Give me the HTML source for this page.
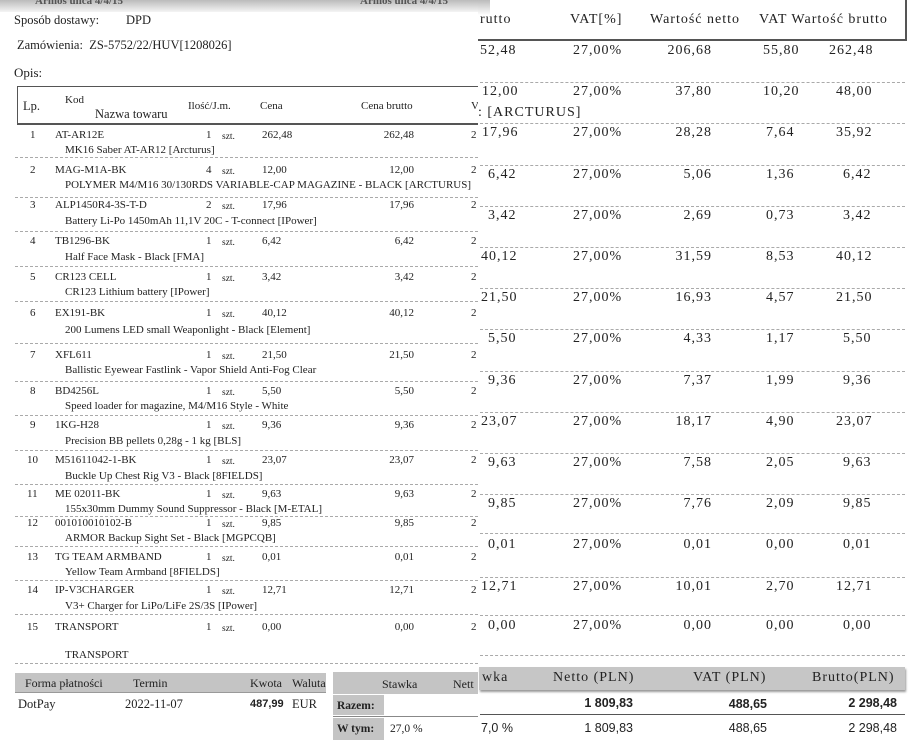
<!DOCTYPE html>
<html><head><meta charset="utf-8"><style>
body{margin:0;width:914px;height:740px;position:relative;overflow:hidden;background:#fff;font-family:"Liberation Serif",serif;color:#222}
div{position:absolute;white-space:nowrap}
.l{font-size:11px;line-height:14px}
.r{font-size:14px;line-height:16px;letter-spacing:1px}
.ra{text-align:right}
.d{height:0;border-top:1px dashed #aaa}
.s{font-family:"Liberation Sans",sans-serif;letter-spacing:0}
.z{font-size:9.5px;padding-top:2px}
</style></head><body>
<!-- left panel -->
<div style="left:0;top:0;width:478px;height:12px;background:linear-gradient(#bbb,#f4f4f4)"></div>
<div class="l" style="left:35px;top:-6px;font-weight:bold;color:#555">Armos ulica 4/4/15</div>
<div class="l" style="left:360px;top:-6px;font-weight:bold;color:#555">Armos ulica 4/4/15</div>
<div style="left:14px;top:13px;font-size:12.5px">Sposób dostawy:</div>
<div style="left:126px;top:13px;font-size:12.5px">DPD</div>
<div style="left:17px;top:38px;font-size:12.5px">Zamówienia:&nbsp; ZS-5752/22/HUV[1208026]</div>
<div style="left:14px;top:65px;font-size:13px">Opis:</div>
<div style="left:17px;top:86px;width:470px;height:36px;border:1px solid #555;border-bottom:2px solid #555;border-right:none"></div>
<div class="l" style="left:23px;top:99px;font-size:12.5px">Lp.</div>
<div class="l" style="left:65px;top:93px">Kod</div>
<div class="l" style="left:95px;top:107px;font-size:12.5px">Nazwa towaru</div>
<div class="l" style="left:188px;top:99px">Ilość/J.m.</div>
<div class="l" style="left:260px;top:99px">Cena</div>
<div class="l" style="left:361px;top:99px">Cena brutto</div>
<div class="l" style="left:471px;top:99px">V</div>

<div class="l" style="left:30px;top:128px">1</div><div class="l" style="left:55px;top:128px">AT-AR12E</div><div class="l" style="left:206px;top:128px">1</div><div class="l z" style="left:222px;top:128px">szt.</div><div class="l" style="left:262px;top:128px">262,48</div><div class="l ra" style="left:340px;width:74px;top:128px">262,48</div><div class="l" style="left:471px;top:128px">2</div>
<div class="l" style="left:65px;top:143px">MK16 Saber AT-AR12 [Arcturus]</div><div class="d" style="left:15px;width:463px;top:157px"></div>

<div class="l" style="left:30px;top:163px">2</div><div class="l" style="left:55px;top:163px">MAG-M1A-BK</div><div class="l" style="left:206px;top:163px">4</div><div class="l z" style="left:222px;top:163px">szt.</div><div class="l" style="left:262px;top:163px">12,00</div><div class="l ra" style="left:340px;width:74px;top:163px">12,00</div><div class="l" style="left:471px;top:163px">2</div>
<div class="l" style="left:65px;top:178px">POLYMER M4/M16 30/130RDS VARIABLE-CAP MAGAZINE - BLACK [ARCTURUS]</div><div class="d" style="left:15px;width:463px;top:197px"></div>

<div class="l" style="left:30px;top:198px">3</div><div class="l" style="left:55px;top:198px">ALP1450R4-3S-T-D</div><div class="l" style="left:206px;top:198px">2</div><div class="l z" style="left:222px;top:198px">szt.</div><div class="l" style="left:262px;top:198px">17,96</div><div class="l ra" style="left:340px;width:74px;top:198px">17,96</div><div class="l" style="left:471px;top:198px">2</div>
<div class="l" style="left:65px;top:214px">Battery Li-Po 1450mAh 11,1V 20C - T-connect [IPower]</div><div class="d" style="left:15px;width:463px;top:231px"></div>

<div class="l" style="left:30px;top:234px">4</div><div class="l" style="left:55px;top:234px">TB1296-BK</div><div class="l" style="left:206px;top:234px">1</div><div class="l z" style="left:222px;top:234px">szt.</div><div class="l" style="left:262px;top:234px">6,42</div><div class="l ra" style="left:340px;width:74px;top:234px">6,42</div><div class="l" style="left:471px;top:234px">2</div>
<div class="l" style="left:65px;top:250px">Half Face Mask - Black [FMA]</div><div class="d" style="left:15px;width:463px;top:266px"></div>

<div class="l" style="left:30px;top:270px">5</div><div class="l" style="left:55px;top:270px">CR123 CELL</div><div class="l" style="left:206px;top:270px">1</div><div class="l z" style="left:222px;top:270px">szt.</div><div class="l" style="left:262px;top:270px">3,42</div><div class="l ra" style="left:340px;width:74px;top:270px">3,42</div><div class="l" style="left:471px;top:270px">2</div>
<div class="l" style="left:65px;top:285px">CR123 Lithium battery [IPower]</div><div class="d" style="left:15px;width:463px;top:301px"></div>

<div class="l" style="left:30px;top:306px">6</div><div class="l" style="left:55px;top:306px">EX191-BK</div><div class="l" style="left:206px;top:306px">1</div><div class="l z" style="left:222px;top:306px">szt.</div><div class="l" style="left:262px;top:306px">40,12</div><div class="l ra" style="left:340px;width:74px;top:306px">40,12</div><div class="l" style="left:471px;top:306px">2</div>
<div class="l" style="left:65px;top:323px">200 Lumens LED small Weaponlight - Black [Element]</div><div class="d" style="left:15px;width:463px;top:343px"></div>

<div class="l" style="left:30px;top:348px">7</div><div class="l" style="left:55px;top:348px">XFL611</div><div class="l" style="left:206px;top:348px">1</div><div class="l z" style="left:222px;top:348px">szt.</div><div class="l" style="left:262px;top:348px">21,50</div><div class="l ra" style="left:340px;width:74px;top:348px">21,50</div><div class="l" style="left:471px;top:348px">2</div>
<div class="l" style="left:65px;top:363px">Ballistic Eyewear Fastlink - Vapor Shield Anti-Fog Clear</div><div class="d" style="left:15px;width:463px;top:381px"></div>

<div class="l" style="left:30px;top:384px">8</div><div class="l" style="left:55px;top:384px">BD4256L</div><div class="l" style="left:206px;top:384px">1</div><div class="l z" style="left:222px;top:384px">szt.</div><div class="l" style="left:262px;top:384px">5,50</div><div class="l ra" style="left:340px;width:74px;top:384px">5,50</div><div class="l" style="left:471px;top:384px">2</div>
<div class="l" style="left:65px;top:399px">Speed loader for magazine, M4/M16 Style - White</div><div class="d" style="left:15px;width:463px;top:415px"></div>

<div class="l" style="left:30px;top:418px">9</div><div class="l" style="left:55px;top:418px">1KG-H28</div><div class="l" style="left:206px;top:418px">1</div><div class="l z" style="left:222px;top:418px">szt.</div><div class="l" style="left:262px;top:418px">9,36</div><div class="l ra" style="left:340px;width:74px;top:418px">9,36</div><div class="l" style="left:471px;top:418px">2</div>
<div class="l" style="left:65px;top:434px">Precision BB pellets 0,28g - 1 kg [BLS]</div><div class="d" style="left:15px;width:463px;top:450px"></div>

<div class="l" style="left:27px;top:453px">10</div><div class="l" style="left:55px;top:453px">M51611042-1-BK</div><div class="l" style="left:206px;top:453px">1</div><div class="l z" style="left:222px;top:453px">szt.</div><div class="l" style="left:262px;top:453px">23,07</div><div class="l ra" style="left:340px;width:74px;top:453px">23,07</div><div class="l" style="left:471px;top:453px">2</div>
<div class="l" style="left:65px;top:469px">Buckle Up Chest Rig V3 - Black [8FIELDS]</div><div class="d" style="left:15px;width:463px;top:484px"></div>

<div class="l" style="left:27px;top:487px">11</div><div class="l" style="left:55px;top:487px">ME 02011-BK</div><div class="l" style="left:206px;top:487px">1</div><div class="l z" style="left:222px;top:487px">szt.</div><div class="l" style="left:262px;top:487px">9,63</div><div class="l ra" style="left:340px;width:74px;top:487px">9,63</div><div class="l" style="left:471px;top:487px">2</div>
<div class="l" style="left:65px;top:502px">155x30mm Dummy Sound Suppressor - Black [M-ETAL]</div><div class="d" style="left:15px;width:463px;top:516px"></div>

<div class="l" style="left:27px;top:516px">12</div><div class="l" style="left:55px;top:516px">001010010102-B</div><div class="l" style="left:206px;top:516px">1</div><div class="l z" style="left:222px;top:516px">szt.</div><div class="l" style="left:262px;top:516px">9,85</div><div class="l ra" style="left:340px;width:74px;top:516px">9,85</div><div class="l" style="left:471px;top:516px">2</div>
<div class="l" style="left:65px;top:531px">ARMOR Backup Sight Set - Black [MGPCQB]</div><div class="d" style="left:15px;width:463px;top:546px"></div>

<div class="l" style="left:27px;top:550px">13</div><div class="l" style="left:55px;top:550px">TG TEAM ARMBAND</div><div class="l" style="left:206px;top:550px">1</div><div class="l z" style="left:222px;top:550px">szt.</div><div class="l" style="left:262px;top:550px">0,01</div><div class="l ra" style="left:340px;width:74px;top:550px">0,01</div><div class="l" style="left:471px;top:550px">2</div>
<div class="l" style="left:65px;top:565px">Yellow Team Armband [8FIELDS]</div><div class="d" style="left:15px;width:463px;top:580px"></div>

<div class="l" style="left:27px;top:583px">14</div><div class="l" style="left:55px;top:583px">IP-V3CHARGER</div><div class="l" style="left:206px;top:583px">1</div><div class="l z" style="left:222px;top:583px">szt.</div><div class="l" style="left:262px;top:583px">12,71</div><div class="l ra" style="left:340px;width:74px;top:583px">12,71</div><div class="l" style="left:471px;top:583px">2</div>
<div class="l" style="left:65px;top:599px">V3+ Charger for LiPo/LiFe 2S/3S [IPower]</div><div class="d" style="left:15px;width:463px;top:614px"></div>

<div class="l" style="left:27px;top:620px">15</div><div class="l" style="left:55px;top:620px">TRANSPORT</div><div class="l" style="left:206px;top:620px">1</div><div class="l z" style="left:222px;top:620px">szt.</div><div class="l" style="left:262px;top:620px">0,00</div><div class="l ra" style="left:340px;width:74px;top:620px">0,00</div><div class="l" style="left:471px;top:620px">2</div>
<div class="l" style="left:65px;top:648px">TRANSPORT</div><div class="d" style="left:15px;width:463px;top:663px"></div>

<div style="left:15px;top:673px;width:311px;height:19px;background:#c4c4c4;border-bottom:1px solid #999"></div>
<div class="l" style="left:25px;top:676px;font-size:12px">Forma płatności</div>
<div class="l" style="left:133px;top:676px;font-size:12px">Termin</div>
<div class="l" style="left:250px;top:676px;font-size:12px">Kwota</div>
<div class="l" style="left:292px;top:676px;font-size:12px">Waluta</div>
<div class="l" style="left:18px;top:697px;font-size:12.5px">DotPay</div>
<div class="l" style="left:125px;top:697px;font-size:12.5px">2022-11-07</div>
<div class="l s" style="left:250px;top:697px;font-weight:bold;font-size:11px">487,99</div>
<div class="l" style="left:292px;top:697px;font-size:12.5px">EUR</div>
<div style="left:333px;top:672px;width:145px;height:22px;background:#c4c4c4"></div>
<div class="l" style="left:382px;top:677px;font-size:12px">Stawka</div>
<div class="l" style="left:453px;top:677px;font-size:12px">Nett</div>
<div style="left:333px;top:695px;width:51px;height:20px;background:#c4c4c4"></div>
<div style="left:333px;top:716px;width:145px;height:1px;background:#888"></div>
<div style="left:333px;top:718px;width:51px;height:22px;background:#c4c4c4"></div>
<div class="l" style="left:337px;top:699px;font-weight:bold;font-size:11.5px">Razem:</div>
<div class="l" style="left:337px;top:722px;font-weight:bold;font-size:11.5px">W tym:</div>
<div class="l" style="left:390px;top:722px;font-size:11.5px">27,0 %</div>

<!-- right panel -->
<div style="left:478px;top:0;width:436px;height:740px;background:#fff"></div>
<div style="left:478px;top:0;width:12px;height:15px;background:linear-gradient(#bbb,#fff)"></div>
<div style="left:478px;top:-2px;width:427px;height:41px;border-right:2px solid #555;border-bottom:2px solid #555"></div>
<div class="r" style="left:480px;top:12px">rutto</div>
<div class="r" style="left:570px;top:12px">VAT[%]</div>
<div class="r" style="left:650px;top:12px">Wartość netto</div>
<div class="r" style="left:759px;top:12px">VAT Wartość brutto</div>

<div class="r" style="left:480px;top:43px">52,48</div><div class="r" style="left:573px;top:43px">27,00%</div><div class="r ra" style="left:640px;width:72px;top:43px">206,68</div><div class="r" style="left:763px;top:43px">55,80</div><div class="r" style="left:829px;top:43px">262,48</div>
<div class="d" style="left:480px;width:425px;top:82px"></div>
<div class="r" style="left:482px;top:84px">12,00</div><div class="r" style="left:573px;top:84px">27,00%</div><div class="r ra" style="left:640px;width:72px;top:84px">37,80</div><div class="r" style="left:763px;top:84px">10,20</div><div class="r" style="left:836px;top:84px">48,00</div>
<div class="r" style="left:478px;top:105px">: [ARCTURUS]</div>
<div class="d" style="left:480px;width:425px;top:123px"></div>
<div class="r" style="left:482px;top:125px">17,96</div><div class="r" style="left:573px;top:125px">27,00%</div><div class="r ra" style="left:640px;width:72px;top:125px">28,28</div><div class="r" style="left:766px;top:125px">7,64</div><div class="r" style="left:836px;top:125px">35,92</div>
<div class="d" style="left:480px;width:425px;top:165px"></div>
<div class="r" style="left:488px;top:167px">6,42</div><div class="r" style="left:573px;top:167px">27,00%</div><div class="r ra" style="left:640px;width:72px;top:167px">5,06</div><div class="r" style="left:766px;top:167px">1,36</div><div class="r" style="left:843px;top:167px">6,42</div>
<div class="d" style="left:480px;width:425px;top:206px"></div>
<div class="r" style="left:488px;top:208px">3,42</div><div class="r" style="left:573px;top:208px">27,00%</div><div class="r ra" style="left:640px;width:72px;top:208px">2,69</div><div class="r" style="left:766px;top:208px">0,73</div><div class="r" style="left:843px;top:208px">3,42</div>
<div class="d" style="left:480px;width:425px;top:247px"></div>
<div class="r" style="left:481px;top:249px">40,12</div><div class="r" style="left:573px;top:249px">27,00%</div><div class="r ra" style="left:640px;width:72px;top:249px">31,59</div><div class="r" style="left:766px;top:249px">8,53</div><div class="r" style="left:836px;top:249px">40,12</div>
<div class="d" style="left:480px;width:425px;top:288px"></div>
<div class="r" style="left:481px;top:290px">21,50</div><div class="r" style="left:573px;top:290px">27,00%</div><div class="r ra" style="left:640px;width:72px;top:290px">16,93</div><div class="r" style="left:766px;top:290px">4,57</div><div class="r" style="left:836px;top:290px">21,50</div>
<div class="d" style="left:480px;width:425px;top:329px"></div>
<div class="r" style="left:488px;top:331px">5,50</div><div class="r" style="left:573px;top:331px">27,00%</div><div class="r ra" style="left:640px;width:72px;top:331px">4,33</div><div class="r" style="left:766px;top:331px">1,17</div><div class="r" style="left:843px;top:331px">5,50</div>
<div class="d" style="left:480px;width:425px;top:371px"></div>
<div class="r" style="left:488px;top:373px">9,36</div><div class="r" style="left:573px;top:373px">27,00%</div><div class="r ra" style="left:640px;width:72px;top:373px">7,37</div><div class="r" style="left:766px;top:373px">1,99</div><div class="r" style="left:843px;top:373px">9,36</div>
<div class="d" style="left:480px;width:425px;top:412px"></div>
<div class="r" style="left:481px;top:414px">23,07</div><div class="r" style="left:573px;top:414px">27,00%</div><div class="r ra" style="left:640px;width:72px;top:414px">18,17</div><div class="r" style="left:766px;top:414px">4,90</div><div class="r" style="left:836px;top:414px">23,07</div>
<div class="d" style="left:480px;width:425px;top:453px"></div>
<div class="r" style="left:488px;top:455px">9,63</div><div class="r" style="left:573px;top:455px">27,00%</div><div class="r ra" style="left:640px;width:72px;top:455px">7,58</div><div class="r" style="left:766px;top:455px">2,05</div><div class="r" style="left:843px;top:455px">9,63</div>
<div class="d" style="left:480px;width:425px;top:494px"></div>
<div class="r" style="left:488px;top:496px">9,85</div><div class="r" style="left:573px;top:496px">27,00%</div><div class="r ra" style="left:640px;width:72px;top:496px">7,76</div><div class="r" style="left:766px;top:496px">2,09</div><div class="r" style="left:843px;top:496px">9,85</div>
<div class="d" style="left:480px;width:425px;top:533px"></div>
<div class="r" style="left:488px;top:537px">0,01</div><div class="r" style="left:573px;top:537px">27,00%</div><div class="r ra" style="left:640px;width:72px;top:537px">0,01</div><div class="r" style="left:766px;top:537px">0,00</div><div class="r" style="left:843px;top:537px">0,01</div>
<div class="d" style="left:480px;width:425px;top:577px"></div>
<div class="r" style="left:481px;top:579px">12,71</div><div class="r" style="left:573px;top:579px">27,00%</div><div class="r ra" style="left:640px;width:72px;top:579px">10,01</div><div class="r" style="left:766px;top:579px">2,70</div><div class="r" style="left:836px;top:579px">12,71</div>
<div class="d" style="left:480px;width:425px;top:615px"></div>
<div class="r" style="left:488px;top:618px">0,00</div><div class="r" style="left:573px;top:618px">27,00%</div><div class="r ra" style="left:640px;width:72px;top:618px">0,00</div><div class="r" style="left:766px;top:618px">0,00</div><div class="r" style="left:843px;top:618px">0,00</div>
<div class="d" style="left:480px;width:425px;top:655px"></div>

<div style="left:479px;top:667px;width:426px;height:23px;background:#c6c6c6;box-shadow:1px 2px 2px #999"></div>
<div class="r" style="left:482px;top:670px">wka</div>
<div class="r" style="left:553px;top:670px">Netto (PLN)</div>
<div class="r" style="left:693px;top:670px">VAT (PLN)</div>
<div class="r" style="left:812px;top:670px">Brutto(PLN)</div>
<div class="r s ra" style="left:533px;width:100px;top:695px;font-weight:bold;font-size:12.5px">1 809,83</div>
<div class="r s ra" style="left:667px;width:100px;top:696px;font-weight:bold;font-size:12.5px">488,65</div>
<div class="r s ra" style="left:797px;width:100px;top:695px;font-weight:bold;font-size:12.5px">2 298,48</div>
<div style="left:480px;top:714px;width:425px;height:1px;background:#555"></div>
<div class="r s" style="left:481px;top:720px;font-size:12.5px">7,0 %</div>
<div class="r s ra" style="left:533px;width:100px;top:720px;font-size:12.5px">1 809,83</div>
<div class="r s ra" style="left:667px;width:100px;top:720px;font-size:12.5px">488,65</div>
<div class="r s ra" style="left:797px;width:100px;top:720px;font-size:12.5px">2 298,48</div>
</body></html>
